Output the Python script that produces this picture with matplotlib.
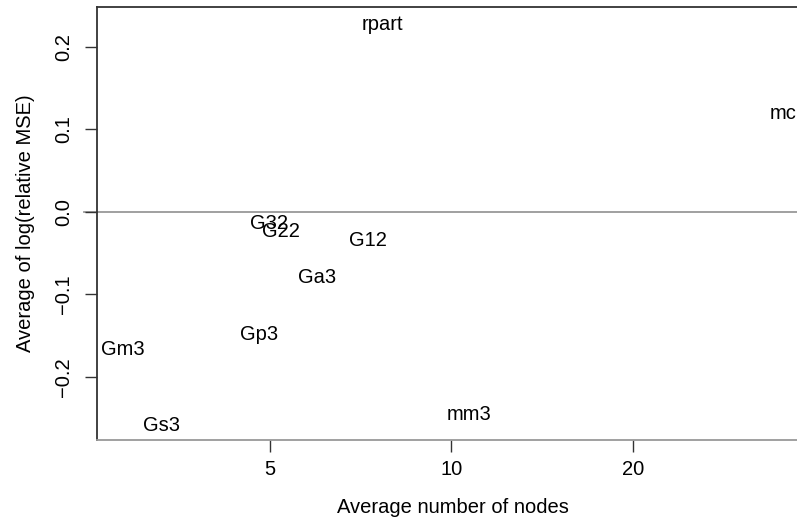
import numpy as np
import matplotlib
matplotlib.use("Agg")
import matplotlib.pyplot as plt
import matplotlib.transforms as mtransforms

plt.rcParams['font.family'] = ['Liberation Sans', 'DejaVu Sans']

# method names, mean tree size and mean log relative MSE
methods = ["rpart", "mc", "G32", "G22", "G12", "Ga3", "Gp3", "Gm3", "Gs3", "mm3"]
avg_nodes = [7.69, 35.6, 4.98, 5.21, 7.26, 5.99, 4.80, 2.85, 3.30, 10.70]
avg_log_mse = [0.229, 0.121, -0.012, -0.022, -0.032, -0.077, -0.146, -0.165, -0.257, -0.243]

x_ticks = [5, 10, 20]
y_ticks = [-0.2, -0.1, 0.0, 0.1, 0.2]

FS = 14.5

fig = plt.figure(figsize=(7.97, 5.18), dpi=100)
# plot region runs past the right edge of the figure
ax = fig.add_axes([96.7 / 797, 78 / 518, (810 - 96.7) / 797, 433 / 518])

ax.set_xscale("log")
# R style 4% padding of the data range
lx = np.log10(avg_nodes)
pad = 0.04 * (lx.max() - lx.min())
ax.set_xlim(10 ** (lx.min() - pad), 10 ** (lx.max() + pad))
ymin, ymax = min(avg_log_mse), max(avg_log_mse)
ypad = 0.04 * (ymax - ymin)
ax.set_ylim(ymin - ypad, ymax + ypad)

ax.axhline(0, color="#999999", lw=1.3, xmin=-0.018, clip_on=False, zorder=1)

# text labels sit with the middle of their cap height on the point
cap = 0.72 * FS
trans = mtransforms.offset_copy(ax.transData, fig=fig, y=-cap / 2, units="points")
for name, xv, yv in zip(methods, avg_nodes, avg_log_mse):
    ax.text(xv, yv, name, transform=trans, ha="center", va="baseline",
            fontsize=FS, color="black", zorder=3)

ax.set_xticks(x_ticks)
ax.set_xticklabels([str(t) for t in x_ticks])
ax.xaxis.set_minor_locator(matplotlib.ticker.NullLocator())
ax.set_yticks(y_ticks)
ax.set_yticklabels(["\u22120.2", "\u22120.1", "0.0", "0.1", "0.2"],
                   rotation=90, va="center")

ax.tick_params(axis="both", direction="out", length=8.6, width=1.0,
               color="#333333", labelsize=FS, labelcolor="black")
ax.tick_params(axis="x", pad=5.5)
ax.tick_params(axis="y", pad=8.5)

for side in ["top", "left", "right"]:
    ax.spines[side].set_color("#333333")
    ax.spines[side].set_linewidth(1.3)
ax.spines["bottom"].set_color("#999999")
ax.spines["bottom"].set_linewidth(1.3)

ax.set_xlabel("Average number of nodes", fontsize=FS, labelpad=14)
ax.set_ylabel("Average of log(relative MSE)", fontsize=FS, labelpad=14)

fig.savefig("out.png", dpi=100)
